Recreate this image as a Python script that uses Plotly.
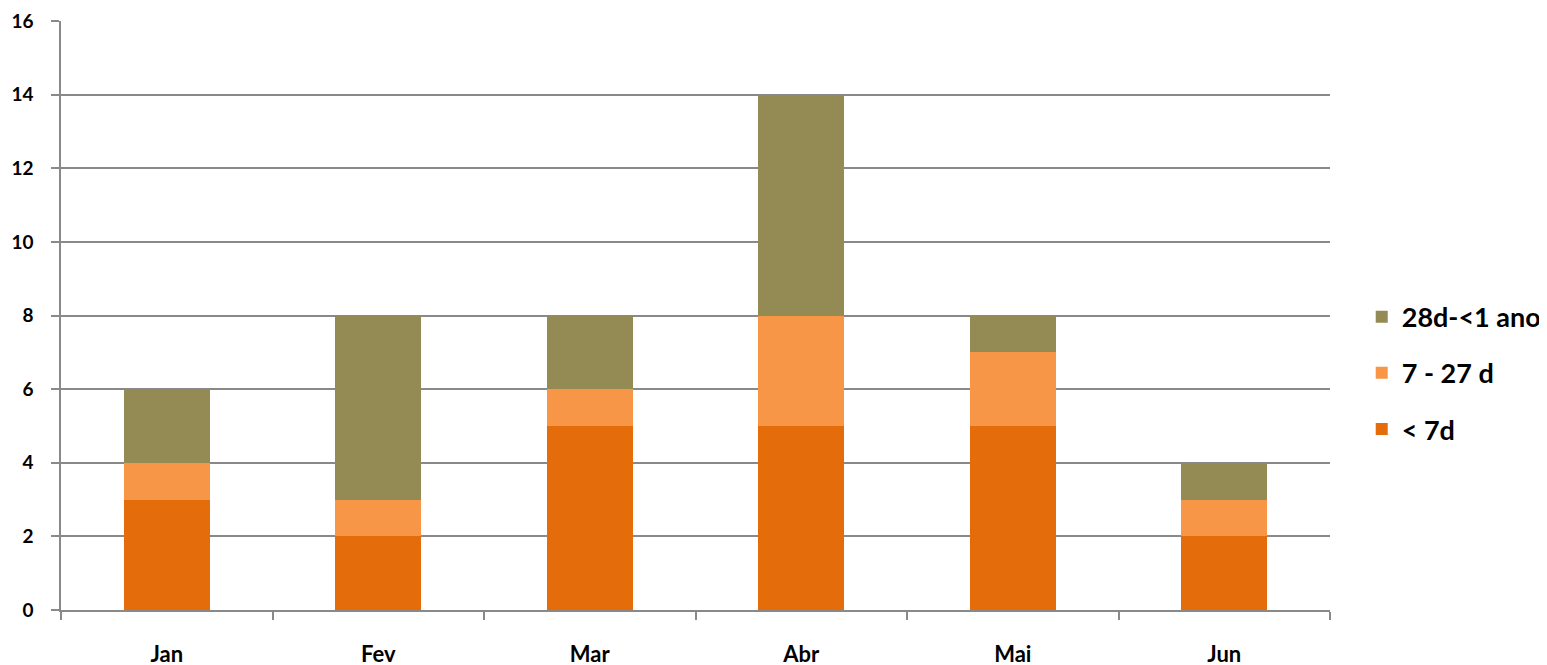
import plotly.graph_objects as go

months = ["Jan", "Fev", "Mar", "Abr", "Mai", "Jun"]
lt7 = [3, 2, 5, 5, 5, 2]
d7_27 = [1, 1, 1, 3, 2, 1]
d28_1y = [2, 5, 2, 6, 1, 1]

series = [
    ("< 7d", lt7, "#E46C0A", 3),
    ("7 - 27 d", d7_27, "#F79646", 2),
    ("28d-<1 ano", d28_1y, "#948A54", 1),
]

fig = go.Figure()
for i, (name, vals, col, rank) in enumerate(series):
    fig.add_trace(go.Bar(x=months, y=vals, name=name, marker_color=col,
                         marker_line_width=0, legendgroup=str(i), legendrank=rank))

font_fam = "Lato, 'Open Sans', sans-serif"
fig.update_layout(
    barmode="stack",
    bargap=0.593,
    width=1547, height=665,
    margin=dict(l=53, r=225, t=13, b=63, autoexpand=False),
    plot_bgcolor="white", paper_bgcolor="white",
    font=dict(family=font_fam, color="black"),
    showlegend=True,
    legend=dict(traceorder="grouped", x=1.025, xanchor="left", y=0.402, yanchor="middle",
                font=dict(size=27, family=font_fam, color="black", weight="bold"),
                tracegroupgap=18, itemwidth=30),
    xaxis=dict(showline=True, linecolor="#898989", linewidth=1.5, ticks="outside",
               tickson="boundaries", ticklen=8, tickcolor="#898989", tickwidth=1.5,
               tickfont=dict(size=22, family=font_fam, color="black", weight="bold"),
               ticklabelstandoff=24, showgrid=False, automargin=False),
    yaxis=dict(range=[0, 16], dtick=2, showline=True, linecolor="#898989", linewidth=1.5,
               ticks="outside", ticklen=8, tickcolor="#898989", tickwidth=1.5,
               showgrid=True, gridcolor="#898989", gridwidth=1.5, zeroline=False,
               tickfont=dict(size=19, family=font_fam, color="black", weight="bold"),
               ticklabelstandoff=14, automargin=False),
)
fig.write_html("out.html")
